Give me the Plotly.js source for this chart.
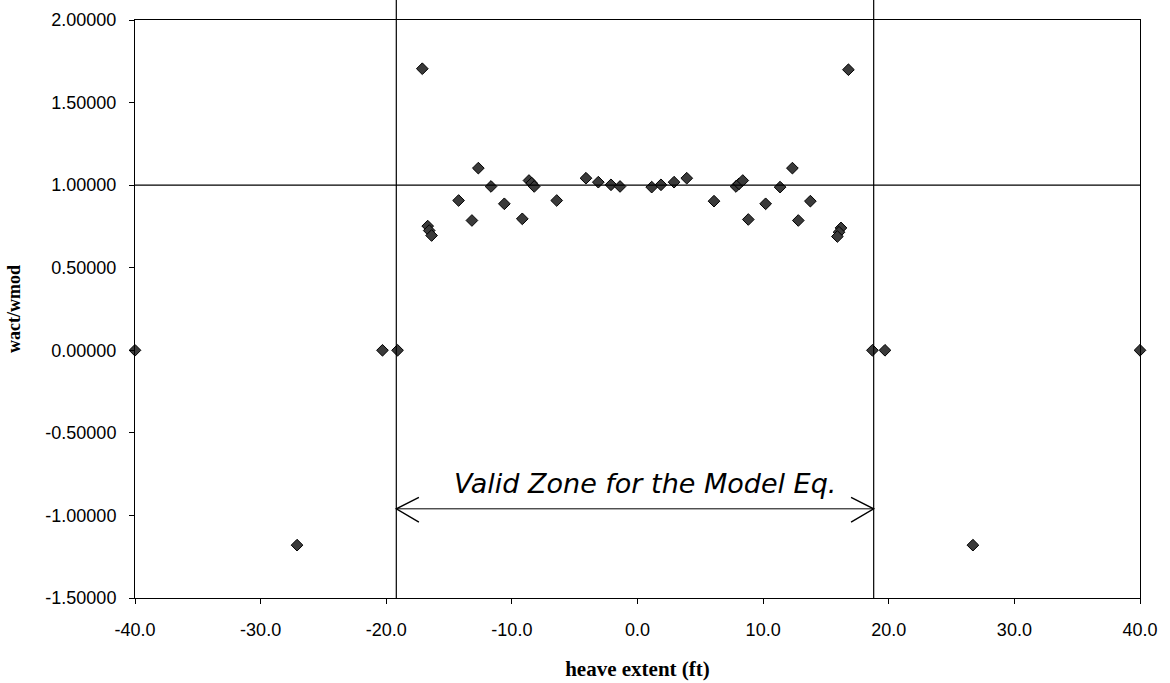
<!DOCTYPE html>
<html>
<head>
<meta charset="utf-8">
<script src="https://cdn.plot.ly/plotly-3.0.1.min.js"></script>
<style>html,body{margin:0;padding:0;background:#fff;}#chart{width:1170px;height:683px;}</style>
</head>
<body>
<div id="chart"></div>
<script>
// heave extent (ft)
const heaveExtent = [
  -40.0, -20.3, -19.1, -27.1,
  -17.13, -12.67, -11.66, -14.24, -13.18, -10.6, -9.17,
  -8.64, -8.42, -8.22, -6.43, -4.1, -3.12, -2.11, -1.39,
  -16.7, -16.58, -16.39,
  1.13, 1.87, 2.91, 3.92, 6.09, 7.84, 8.08, 8.38, 8.82, 10.2,
  11.35, 12.33, 12.8, 13.76, 16.79, 16.2, 16.04, 15.91,
  18.7, 19.7, 40.0, 26.7
];
// wact/wmod
const ratio = [
  0.0, 0.0, 0.0, -1.18,
  1.705, 1.103, 0.992, 0.907, 0.786, 0.887, 0.796,
  1.028, 1.012, 0.992, 0.907, 1.042, 1.018, 1.002, 0.992,
  0.752, 0.725, 0.695,
  0.988, 1.002, 1.018, 1.042, 0.903, 0.992, 1.008, 1.028, 0.792, 0.887,
  0.988, 1.103, 0.786, 0.903, 1.699, 0.741, 0.715, 0.689,
  0.0, 0.0, 0.0, -1.18
];
// reference lines
const modelLineY = 1.0;
const zoneLeft = -19.2;
const zoneRight = 18.8;
const zoneArrowY = -0.96;
const zoneLabel = "Valid Zone for the Model Eq.";
const xTickVals = [-40, -30, -20, -10, 0, 10, 20, 30, 40];
const xTickText = ["-40.0", "-30.0", "-20.0", "-10.0", "0.0", "10.0", "20.0", "30.0", "40.0"];
const yTickVals = [-1.5, -1.0, -0.5, 0, 0.5, 1.0, 1.5, 2.0];
const yTickText = ["-1.50000", "-1.00000", "-0.50000", "0.00000", "0.50000", "1.00000", "1.50000", "2.00000"];

const serif = "Liberation Serif, Times New Roman, serif";
const sans = "Liberation Sans, Arial, sans-serif";

const trace = {
  x: heaveExtent, y: ratio, type: "scatter", mode: "markers",
  marker: {symbol: "diamond", size: 9, color: "#3a3a3a", line: {color: "#000", width: 1}},
  cliponaxis: false, showlegend: false
};

// arrow chevrons, sized in axis units
const headLen = 1.8, headUp = 0.07, headDown = 0.08;
function chevron(tipX, dir) {
  const bx = tipX + dir * headLen;
  return {type: "path", xref: "x", yref: "y",
    path: `M ${bx} ${zoneArrowY + headUp} L ${tipX} ${zoneArrowY} L ${bx} ${zoneArrowY - headDown}`,
    line: {color: "#000", width: 1.4}};
}

const layout = {
  width: 1170, height: 683,
  margin: {l: 135, r: 30, t: 20, b: 85},
  paper_bgcolor: "#fff", plot_bgcolor: "#fff",
  font: {family: sans, color: "#000", size: 18},
  xaxis: {
    range: [-40, 40], tickvals: xTickVals, ticktext: xTickText,
    showgrid: false, zeroline: false, showline: true, linecolor: "#000", linewidth: 1,
    mirror: true, ticks: "outside", ticklen: 5, tickcolor: "#000", ticklabelstandoff: 10,
    tickfont: {family: sans, size: 18},
    title: {text: "<b>heave extent (ft)</b>", font: {family: serif, size: 21}, standoff: 22}
  },
  yaxis: {
    range: [-1.5, 2.0], tickvals: yTickVals, ticktext: yTickText,
    showgrid: false, zeroline: false, showline: true, linecolor: "#000", linewidth: 1,
    mirror: true, ticks: "outside", ticklen: 5, tickcolor: "#000", ticklabelstandoff: 9,
    tickfont: {family: sans, size: 18},
    title: {text: "<b>wact/wmod</b>", font: {family: serif, size: 18}, standoff: 20}
  },
  shapes: [
    {type: "line", xref: "x", yref: "y", x0: -40, x1: 40, y0: modelLineY, y1: modelLineY, line: {color: "#000", width: 1.2}},
    {type: "line", xref: "x", yref: "paper", x0: zoneLeft, x1: zoneLeft, y0: 0, y1: 1.035, line: {color: "#000", width: 1.2}},
    {type: "line", xref: "x", yref: "paper", x0: zoneRight, x1: zoneRight, y0: 0, y1: 1.035, line: {color: "#000", width: 1.2}},
    {type: "line", xref: "x", yref: "y", x0: zoneLeft, x1: zoneRight, y0: zoneArrowY, y1: zoneArrowY, line: {color: "#000", width: 1}},
    chevron(zoneLeft, 1),
    chevron(zoneRight, -1)
  ],
  annotations: [
    {x: (zoneLeft + zoneRight) / 2 + 0.8, y: zoneArrowY, xref: "x", yref: "y", yanchor: "bottom", yshift: 8,
     text: zoneLabel, showarrow: false,
     font: {family: "DejaVu Sans, sans-serif", size: 27, style: "italic", color: "#000"}}
  ]
};

Plotly.newPlot("chart", [trace], layout, {displayModeBar: false, staticPlot: true});
</script>
</body>
</html>
